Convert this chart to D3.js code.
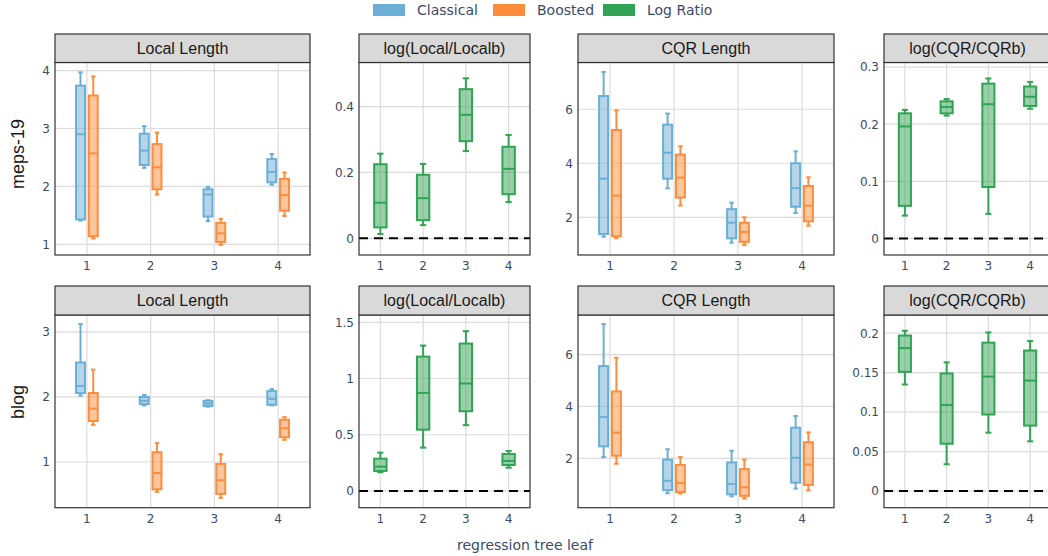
<!DOCTYPE html>
<html>
<head>
<meta charset="utf-8">
<script src="https://cdn.jsdelivr.net/npm/d3@7"></script>
<style>
  html, body { margin: 0; padding: 0; background: #fff; }
  svg { display: block; }
</style>
</head>
<body>
<svg id="chart" width="1048" height="556"></svg>
<script>
// ---------- DATA ----------
const leaves = ["1", "2", "3", "4"];
const datasets = ["meps-19", "blog"];
const panelTitles = ["Local Length", "log(Local/Localb)", "CQR Length", "log(CQR/CQRb)"];
const seriesNames = ["Classical", "Boosted", "Log Ratio"];
const seriesColors = ["#6baed6", "#fd8d3c", "#31a354"];
const xTitle = "regression tree leaf";

// each entry per leaf: [lower whisker, q1, median, q3, upper whisker]
const mepsLocalClassical = [[1.41, 1.43, 2.90, 3.74, 3.97], [2.32, 2.37, 2.62, 2.91, 3.04], [1.40, 1.48, 1.86, 1.95, 1.99], [2.03, 2.07, 2.25, 2.47, 2.56]];
const mepsLocalBoosted   = [[1.10, 1.14, 2.57, 3.57, 3.90], [1.86, 1.95, 2.33, 2.73, 2.93], [0.99, 1.04, 1.19, 1.37, 1.44], [1.49, 1.58, 1.85, 2.13, 2.24]];
const mepsLocalRatio     = [[0.013, 0.033, 0.108, 0.225, 0.257], [0.040, 0.055, 0.122, 0.193, 0.226], [0.265, 0.295, 0.375, 0.453, 0.486], [0.110, 0.134, 0.211, 0.278, 0.314]];
const mepsCQRClassical   = [[1.28, 1.38, 3.43, 6.49, 7.38], [3.07, 3.43, 4.39, 5.43, 5.84], [1.06, 1.22, 1.80, 2.30, 2.54], [2.16, 2.39, 3.08, 4.00, 4.44]];
const mepsCQRBoosted     = [[1.23, 1.30, 2.80, 5.23, 5.96], [2.44, 2.73, 3.47, 4.32, 4.63], [0.97, 1.09, 1.46, 1.80, 2.00], [1.69, 1.85, 2.43, 3.16, 3.48]];
const mepsCQRRatio       = [[0.040, 0.057, 0.196, 0.219, 0.225], [0.215, 0.219, 0.230, 0.240, 0.244], [0.043, 0.090, 0.235, 0.271, 0.280], [0.227, 0.232, 0.248, 0.266, 0.274]];

const blogLocalClassical = [[2.02, 2.06, 2.17, 2.53, 3.12], [1.87, 1.89, 1.94, 2.00, 2.03], [1.85, 1.86, 1.90, 1.94, 1.95], [1.87, 1.88, 1.97, 2.09, 2.12]];
const blogLocalBoosted   = [[1.57, 1.63, 1.82, 2.06, 2.42], [0.54, 0.58, 0.83, 1.15, 1.29], [0.45, 0.51, 0.72, 0.97, 1.12], [1.34, 1.38, 1.52, 1.65, 1.69]];
const blogLocalRatio     = [[0.166, 0.178, 0.216, 0.287, 0.341], [0.385, 0.545, 0.872, 1.195, 1.293], [0.585, 0.709, 0.956, 1.311, 1.421], [0.207, 0.231, 0.267, 0.329, 0.356]];
const blogCQRClassical   = [[2.05, 2.46, 3.59, 5.56, 7.18], [0.65, 0.77, 1.13, 1.95, 2.35], [0.53, 0.61, 1.01, 1.84, 2.29], [0.83, 1.06, 2.02, 3.18, 3.63]];
const blogCQRBoosted     = [[1.79, 2.10, 2.99, 4.58, 5.88], [0.64, 0.70, 1.05, 1.74, 2.05], [0.45, 0.55, 0.88, 1.58, 1.95], [0.76, 0.97, 1.76, 2.62, 3.00]];
const blogCQRRatio       = [[0.135, 0.151, 0.181, 0.197, 0.203], [0.034, 0.060, 0.109, 0.149, 0.163], [0.074, 0.097, 0.145, 0.188, 0.201], [0.063, 0.083, 0.140, 0.178, 0.190]];

// y-axis ticks and ranges per panel
const mepsLocalTicks = [1, 2, 3, 4];          const mepsLocalRange = [0.815, 4.14];
const mepsLocalRatioTicks = [0, 0.2, 0.4];    const mepsLocalRatioRange = [-0.0507, 0.534];
const mepsCQRTicks = [2, 4, 6];               const mepsCQRRange = [0.604, 7.73];
const mepsCQRRatioTicks = [0, 0.1, 0.2, 0.3]; const mepsCQRRatioRange = [-0.029, 0.308];
const blogLocalTicks = [1, 2, 3];             const blogLocalRange = [0.297, 3.26];
const blogLocalRatioTicks = [0, 0.5, 1, 1.5]; const blogLocalRatioRange = [-0.149, 1.565];
const blogCQRTicks = [2, 4, 6];               const blogCQRRange = [0.093, 7.53];
const blogCQRRatioTicks = [0, 0.05, 0.1, 0.15, 0.2]; const blogCQRRatioRange = [-0.021, 0.223];

// ---------- PANEL TABLE (built from arrays) ----------
const panelData = [
  [
    { traces: [mepsLocalClassical, mepsLocalBoosted], kinds: [0, 1], ticks: mepsLocalTicks, range: mepsLocalRange, ref: false },
    { traces: [mepsLocalRatio], kinds: [2], ticks: mepsLocalRatioTicks, range: mepsLocalRatioRange, ref: true },
    { traces: [mepsCQRClassical, mepsCQRBoosted], kinds: [0, 1], ticks: mepsCQRTicks, range: mepsCQRRange, ref: false },
    { traces: [mepsCQRRatio], kinds: [2], ticks: mepsCQRRatioTicks, range: mepsCQRRatioRange, ref: true }
  ],
  [
    { traces: [blogLocalClassical, blogLocalBoosted], kinds: [0, 1], ticks: blogLocalTicks, range: blogLocalRange, ref: false },
    { traces: [blogLocalRatio], kinds: [2], ticks: blogLocalRatioTicks, range: blogLocalRatioRange, ref: true },
    { traces: [blogCQRClassical, blogCQRBoosted], kinds: [0, 1], ticks: blogCQRTicks, range: blogCQRRange, ref: false },
    { traces: [blogCQRRatio], kinds: [2], ticks: blogCQRRatioTicks, range: blogCQRRatioRange, ref: true }
  ]
];

// ---------- LAYOUT ----------
const cols = [[55, 310], [359, 530], [578, 834], [884, 1051]];
const rows = [
  { strip: [34, 62.5], plot: [62.5, 255], xLabelY: 270, labelY: 154 },
  { strip: [286, 315], plot: [315, 507.7], xLabelY: 523, labelY: 402 }
];
const tickFont = "'DejaVu Sans', Verdana, sans-serif";
const tickColor = "#3b4a66";

const svg = d3.select("#chart");
svg.append("rect").attr("width", 1048).attr("height", 556).attr("fill", "#fff");

rows.forEach((row, ri) => {
  // row label
  svg.append("text")
    .attr("transform", `translate(24,${row.labelY}) rotate(-90)`)
    .attr("text-anchor", "middle")
    .attr("font-family", "'Liberation Sans', Arial, sans-serif")
    .attr("font-size", 18)
    .attr("fill", "#1a1a1a")
    .text(datasets[ri]);

  cols.forEach((col, ci) => {
    const p = panelData[ri][ci];
    const [x0, x1] = col;
    const [yTop, yBot] = row.plot;
    const x = d3.scaleBand().domain(leaves).range([x0, x1]).paddingInner(0).paddingOuter(0);
    const y = d3.scaleLinear().domain(p.range).range([yBot, yTop]);
    const g = svg.append("g");

    // panel background
    g.append("rect").attr("x", x0).attr("y", yTop).attr("width", x1 - x0).attr("height", yBot - yTop).attr("fill", "#fff");

    // grid
    g.selectAll(".hg").data(p.ticks).enter().append("line")
      .attr("x1", x0).attr("x2", x1)
      .attr("y1", d => y(d)).attr("y2", d => y(d))
      .attr("stroke", "#dcdcdc").attr("stroke-width", 1.2);
    g.selectAll(".vg").data(leaves).enter().append("line")
      .attr("x1", d => x(d) + x.bandwidth() / 2).attr("x2", d => x(d) + x.bandwidth() / 2)
      .attr("y1", yTop).attr("y2", yBot)
      .attr("stroke", "#dcdcdc").attr("stroke-width", 1.2);

    // reference dashed line at 0
    if (p.ref) {
      g.append("line")
        .attr("x1", x0).attr("x2", x1)
        .attr("y1", y(0)).attr("y2", y(0))
        .attr("stroke", "#000").attr("stroke-width", 2)
        .attr("stroke-dasharray", "9,6");
    }

    // boxes
    const nT = p.traces.length;
    const bw = x.bandwidth();
    p.traces.forEach((tr, ti) => {
      const color = seriesColors[p.kinds[ti]];
      const offset = nT === 2 ? (ti === 0 ? -0.1 : 0.1) * bw : 0;
      const w = (nT === 2 ? 0.14 : 0.29) * bw;
      tr.forEach((s, li) => {
        const cx = x(leaves[li]) + bw / 2 + offset;
        const [lo, q1, med, q3, hi] = s;
        const bg = g.append("g");
        bg.append("rect")
          .attr("x", cx - w / 2).attr("y", y(q3))
          .attr("width", w).attr("height", y(q1) - y(q3))
          .attr("fill", color).attr("fill-opacity", 0.5)
          .attr("stroke", color).attr("stroke-width", 2);
        bg.append("line").attr("x1", cx - w / 2).attr("x2", cx + w / 2)
          .attr("y1", y(med)).attr("y2", y(med))
          .attr("stroke", color).attr("stroke-width", 2);
        // whiskers
        [[q3, hi], [q1, lo]].forEach(([a, b]) => {
          bg.append("line").attr("x1", cx).attr("x2", cx)
            .attr("y1", y(a)).attr("y2", y(b))
            .attr("stroke", color).attr("stroke-width", 2);
          bg.append("line").attr("x1", cx - w / 4).attr("x2", cx + w / 4)
            .attr("y1", y(b)).attr("y2", y(b))
            .attr("stroke", color).attr("stroke-width", 2);
        });
      });
    });

    // panel border
    g.append("rect").attr("x", x0).attr("y", yTop).attr("width", x1 - x0).attr("height", yBot - yTop)
      .attr("fill", "none").attr("stroke", "#333").attr("stroke-width", 1.2);

    // strip
    g.append("rect").attr("x", x0).attr("y", row.strip[0]).attr("width", x1 - x0).attr("height", row.strip[1] - row.strip[0])
      .attr("fill", "#d9d9d9").attr("stroke", "#333").attr("stroke-width", 1.2);
    g.append("text")
      .attr("x", (x0 + Math.min(x1, 1053)) / 2)
      .attr("y", (row.strip[0] + row.strip[1]) / 2 + 5.5)
      .attr("text-anchor", "middle")
      .attr("font-family", "'Liberation Sans', Arial, sans-serif")
      .attr("font-size", 16)
      .attr("fill", "#1a1a1a")
      .text(panelTitles[ci]);

    // y tick labels via axis
    const yAxis = d3.axisLeft(y).tickValues(p.ticks).tickSize(0).tickPadding(5).tickFormat(d3.format("~g"));
    const ya = g.append("g").attr("transform", `translate(${x0},0)`).call(yAxis);
    ya.select(".domain").remove();
    ya.selectAll("text").attr("font-family", tickFont).attr("font-size", 12).attr("fill", tickColor);

    // x tick labels via axis
    const xAxis = d3.axisBottom(x).tickSize(0).tickPadding(0);
    const xa = g.append("g").attr("transform", `translate(0,${row.xLabelY})`).call(xAxis);
    xa.select(".domain").remove();
    xa.selectAll("text").attr("dy", 0).attr("y", 0).attr("font-family", tickFont).attr("font-size", 12).attr("fill", tickColor);
  });
});

// x axis title
svg.append("text")
  .attr("x", 525).attr("y", 550)
  .attr("text-anchor", "middle")
  .attr("font-family", tickFont).attr("font-size", 14).attr("fill", tickColor)
  .text(xTitle);

// legend
const legendX = [373, 493, 603];
const lg = svg.append("g");
seriesNames.forEach((name, i) => {
  lg.append("rect").attr("x", legendX[i]).attr("y", 4).attr("width", 32).attr("height", 12)
    .attr("fill", seriesColors[i]);
  lg.append("text").attr("x", legendX[i] + 44).attr("y", 15)
    .attr("font-family", tickFont).attr("font-size", 14).attr("fill", tickColor)
    .text(name);
});
</script>
</body>
</html>
